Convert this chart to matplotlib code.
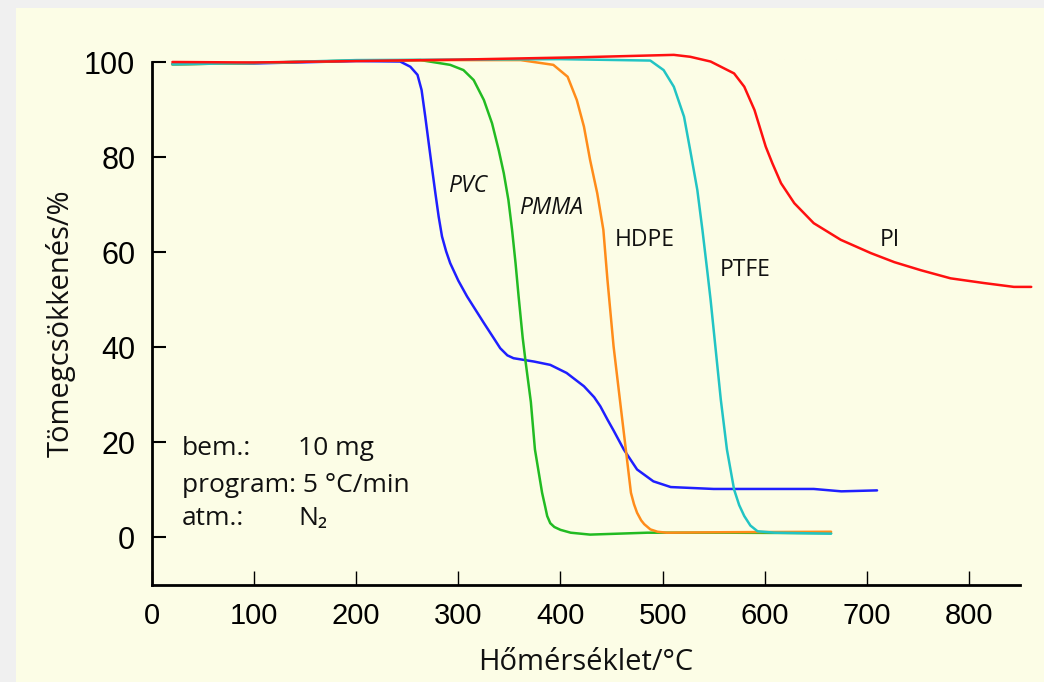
import matplotlib
matplotlib.use("Agg")
import matplotlib.pyplot as plt
from matplotlib.patches import Rectangle

# TGA curves (temperature in C, mass in %)
pvc_t = [20, 100, 200, 243, 253, 260, 264, 267.6, 271, 274, 277.5, 280.7, 284, 288, 292, 300, 308.5, 325, 335,
         341, 348, 354, 374, 390, 406, 423, 433, 439, 446, 452, 462, 475, 491, 508, 550, 600, 648, 675, 710]
pvc_w = [99.6, 99.7, 100.2, 100.1, 99.0, 97.3, 94.1, 88.5, 82.9, 78.0, 72.4, 67.5, 63.3, 60.2, 57.7, 54.0, 50.7,
         45.1, 41.8, 39.8, 38.3, 37.7, 37.0, 36.3, 34.6, 31.8, 29.5, 27.6, 24.8, 22.5, 18.5, 14.3, 11.8, 10.6,
         10.2, 10.2, 10.2, 9.7, 9.9]

pmma_t = [20, 100, 200, 263, 292, 305, 315, 325, 333, 339.5, 344.5, 349, 352.6, 356, 359, 363, 366, 371, 375, 382,
          385, 387, 390, 394, 400, 410, 429, 485, 560, 665]
pmma_w = [99.5, 99.8, 100.3, 100.4, 99.4, 98.3, 96.2, 92.0, 87.1, 81.5, 76.6, 71.0, 64.7, 57.7, 50.7, 42.0, 36.7,
          28.5, 18.5, 9.4, 6.5, 4.5, 3.0, 2.2, 1.6, 1.0, 0.6, 1.0, 1.0, 0.9]

hdpe_t = [20, 100, 200, 300, 361, 393, 407, 416, 423, 429, 436, 442, 446, 452, 459, 464, 469, 472, 475, 479, 482,
          488, 495, 504, 560, 665]
hdpe_w = [99.5, 99.8, 100.3, 100.4, 100.4, 99.4, 96.9, 92.0, 86.4, 79.4, 72.4, 64.7, 54.2, 40.2, 27.5, 18.5, 9.4,
          7.0, 5.2, 3.6, 2.8, 1.7, 1.2, 1.0, 1.1, 1.2]

ptfe_t = [20, 100, 200, 300, 400, 488, 501, 511, 521, 527, 534, 539, 544, 547, 557, 563, 570, 575, 580, 586, 593,
          610, 665]
ptfe_w = [99.5, 99.8, 100.4, 100.5, 100.6, 100.3, 98.3, 94.8, 88.5, 81.5, 73.1, 64.7, 55.6, 50.0, 29.0, 18.5, 10.1,
          6.8, 4.5, 2.5, 1.3, 1.0, 0.8]

pi_t = [20, 100, 200, 300, 420, 511, 527, 547, 570, 580, 590, 596, 601, 607.5, 616, 629, 648, 674.5, 704, 727, 753,
        782, 815, 844, 861]
pi_w = [100.0, 99.9, 100.2, 100.5, 101.0, 101.5, 101.1, 100.1, 97.6, 94.8, 89.9, 85.7, 82.2, 78.7, 74.5, 70.3,
        66.1, 62.6, 59.8, 57.9, 56.2, 54.5, 53.5, 52.7, 52.7]

labels = ["PVC", "PMMA", "HDPE", "PTFE", "PI"]
label_pos = [(309, 74), (391, 69.3), (483, 62.6), (581, 56.3), (723, 62.6)]
colors = ["#1f1fff", "#22bb22", "#ff8c1a", "#22c4c4", "#ff1010"]

x_ticks = [0, 100, 200, 300, 400, 500, 600, 700, 800]
y_ticks = [0, 20, 40, 60, 80, 100]

txt_font = ["Open Sans", "DejaVu Sans"]

fig = plt.figure(figsize=(10.44, 6.82), dpi=100)
fig.patch.set_facecolor("#f0f0f0")
fig.patches.append(Rectangle((16 / 1044, 0), 1 - 16 / 1044, 1 - 8 / 682, transform=fig.transFigure,
                             facecolor="#fcfde6", edgecolor="none", zorder=-10))

ax = fig.add_axes([152 / 1044, 1 - 585 / 682, (1020 - 152) / 1044, (585 - 62) / 682])
ax.set_facecolor("none")

series = [(pvc_t, pvc_w), (pmma_t, pmma_w), (hdpe_t, hdpe_w), (ptfe_t, ptfe_w), (pi_t, pi_w)]
# red last so it sits on top at the 100% plateau
for (t, w), c in zip(series, colors):
    ax.plot(t, w, color=c, lw=1.8, clip_on=False, solid_capstyle="round", solid_joinstyle="round")

for lab, (x, y) in zip(labels, label_pos):
    style = "italic" if lab in ("PVC", "PMMA") else "normal"
    ax.text(x, y, lab, ha="center", va="center", fontsize=16.5, family=txt_font, style=style, color="#111111")

# measurement conditions
cond_kw = dict(ha="left", va="center", fontsize=19, family=txt_font, color="#111111")
ax.text(29, 18.7, "bem.:", **cond_kw)
ax.text(143, 18.7, "10 mg", **cond_kw)
ax.text(29, 10.9, "program: 5 °C/min", **cond_kw)
ax.text(29, 4.0, "atm.:", **cond_kw)
ax.text(143, 4.0, "N₂", **cond_kw)

ax.set_xlim(0, 850)
ax.set_ylim(-10, 100)
ax.set_xticks(x_ticks)
ax.set_yticks(y_ticks)
ax.set_xticklabels([str(v) for v in x_ticks], family="Liberation Sans", fontsize=21)
ax.set_yticklabels([str(v) for v in y_ticks], family="Liberation Sans", fontsize=22)
ax.tick_params(axis="x", direction="in", length=10, width=1.0, pad=12)
ax.tick_params(axis="y", direction="in", length=10, width=1.5, pad=12)

for s in ["top", "right"]:
    ax.spines[s].set_visible(False)
for s in ["left", "bottom"]:
    ax.spines[s].set_linewidth(2.0)

ax.set_xlabel("Hőmérséklet/°C", fontsize=21, family=txt_font, labelpad=13, color="#111111")
ax.set_ylabel("Tömegcsökkenés/%", fontsize=21, family=txt_font, labelpad=6, color="#111111")

fig.savefig("out.png", dpi=100, facecolor=fig.get_facecolor())
